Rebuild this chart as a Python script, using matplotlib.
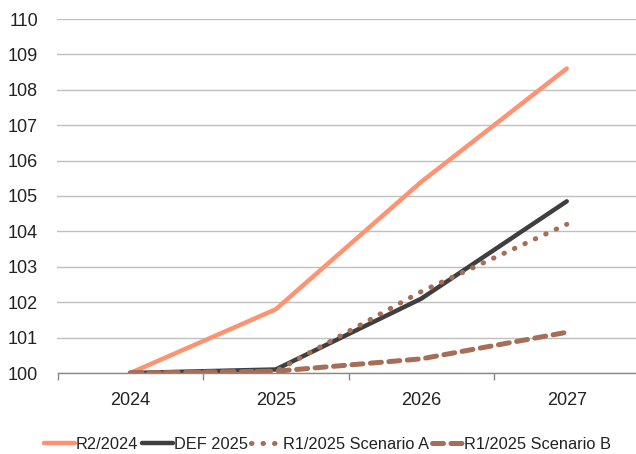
import matplotlib.pyplot as plt
from matplotlib import font_manager

years = ['2024', '2025', '2026', '2027']
r2_2024 = [100.0, 101.8, 105.4, 108.6]
def_2025 = [100.0, 100.1, 102.1, 104.85]
r1_scen_a = [100.0, 100.05, 102.3, 104.2]
r1_scen_b = [100.0, 100.05, 100.4, 101.15]
yticks = list(range(100, 111))

names = {f.name for f in font_manager.fontManager.ttflist}
font = 'Liberation Sans Narrow' if 'Liberation Sans Narrow' in names else 'Liberation Sans'
plt.rcParams['font.family'] = [font, 'DejaVu Sans']

fig = plt.figure(figsize=(6.36, 4.54), dpi=100)
ax = fig.add_axes([57.5 / 636, (454 - 373) / 454, 582 / 636, 354 / 454])

x = range(len(years))
ax.plot(x, r2_2024, color='#FF9271', lw=3.2, label='R2/2024', solid_capstyle='round')
ax.plot(x, def_2025, color='#3F3F3F', lw=3.2, label='DEF 2025', solid_capstyle='round')
ax.plot(x, r1_scen_a, color='#A66E57', lw=3.6, ls=(0, (0.1, 2.2)), dash_capstyle='round',
        label='R1/2025 Scenario A')
ax.plot(x, r1_scen_b, color='#A66E57', lw=3.6, ls=(0, (2.2, 1.5)), dash_capstyle='round',
        label='R1/2025 Scenario B')

ax.set_xlim(-0.5, 3.5)
ax.set_ylim(100, 110)
ax.set_yticks(yticks)
ax.set_yticklabels([str(v) for v in yticks], fontsize=13, color='#222222')
ax.set_xticks(list(x))
ax.set_xticklabels(years, fontsize=13, color='#222222')
ax.tick_params(axis='y', length=0, pad=14)
ax.tick_params(axis='x', length=0, pad=14)
ax.set_xticks([-0.5, 0.5, 1.5, 2.5], minor=True)
ax.tick_params(axis='x', which='minor', length=5, width=1, color='#888888')

ax.grid(axis='y', color='#BFBFBF', lw=1)
ax.set_axisbelow(True)
for s in ['top', 'right', 'left']:
    ax.spines[s].set_visible(False)
ax.spines['bottom'].set_color('#888888')
ax.spines['bottom'].set_linewidth(1)

fig.legend(loc='lower center', bbox_to_anchor=(0.515, -0.028), ncol=4, frameon=False,
           fontsize=11.8, handlelength=1.9, handletextpad=0.05, columnspacing=0.2,
           labelcolor='#222222')

fig.savefig('out.png', dpi=100)
